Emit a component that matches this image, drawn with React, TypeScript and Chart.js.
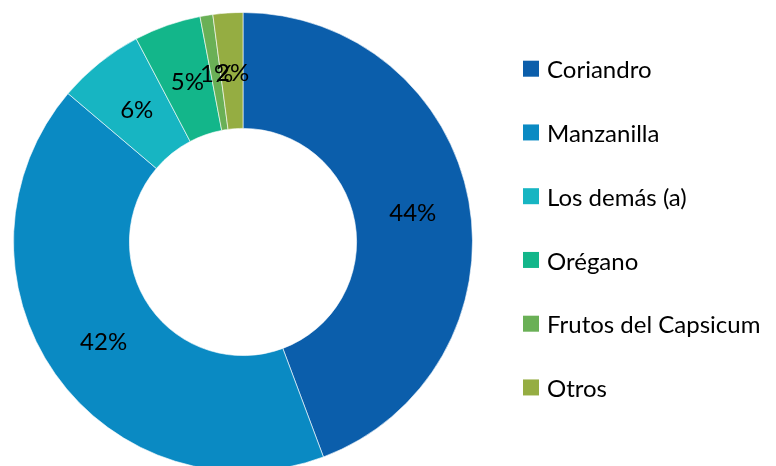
import React, { useEffect, useRef } from "react";
import { Chart, registerables } from "chart.js";

Chart.register(...registerables);

const categories = ["Coriandro", "Manzanilla", "Los demás (a)", "Orégano", "Frutos del Capsicum", "Otros"];
const shares = [44.3, 41.9, 6.1, 4.7, 0.9, 2.1];
const colors = ["#0B5EAB", "#0A8AC3", "#17B5C2", "#13B68A", "#6AB056", "#95AD42"];

const FONT = "24px Lato";

const labelPlugin = {
  id: "sliceLabels",
  afterDatasetsDraw(chart: any) {
    const ctx = chart.ctx;
    const meta = chart.getDatasetMeta(0);
    ctx.save();
    ctx.font = FONT;
    ctx.fillStyle = "#000";
    ctx.textAlign = "center";
    ctx.textBaseline = "middle";
    meta.data.forEach((arc: any, i: number) => {
      const p = arc.tooltipPosition(false);
      ctx.fillText(Math.round(shares[i]) + "%", p.x + 1, p.y + 2);
    });
    ctx.restore();
  },
};

const legendPlugin = {
  id: "sideLegend",
  afterDraw(chart: any) {
    const ctx = chart.ctx;
    const x = 523;
    const top = 68.7;
    const step = 63.75;
    const box = 16;
    ctx.save();
    ctx.font = FONT;
    ctx.textAlign = "left";
    ctx.textBaseline = "alphabetic";
    categories.forEach((c, i) => {
      const cy = top + i * step;
      ctx.fillStyle = colors[i];
      ctx.fillRect(x, cy - box / 2, box, box);
      ctx.fillStyle = "#000";
      ctx.fillText(c, x + 24, cy + 9.6);
    });
    ctx.restore();
  },
};

export default function App() {
  const ref = useRef<HTMLCanvasElement | null>(null);
  useEffect(() => {
    if (!ref.current) return;
    const chart = new Chart(ref.current, {
      type: "doughnut",
      data: {
        labels: categories,
        datasets: [
          {
            data: shares,
            backgroundColor: colors,
            borderColor: "rgba(255,255,255,0.6)",
            borderWidth: 1,
          },
        ],
      },
      options: {
        responsive: false,
        animation: false,
        cutout: "49.5%",
        layout: { padding: { left: 13, top: 12, right: 303, bottom: 12 } },
        plugins: {
          legend: { display: false },
          tooltip: { enabled: false },
        },
      },
      plugins: [labelPlugin, legendPlugin],
    });
    return () => chart.destroy();
  }, []);
  return (
    <div style={{ position: "fixed", left: 0, top: 0, width: 776, height: 466, overflow: "hidden", background: "#fff" }}>
      <canvas ref={ref} width={776} height={484} style={{ width: 776, height: 484, display: "block" }} />
    </div>
  );
}
